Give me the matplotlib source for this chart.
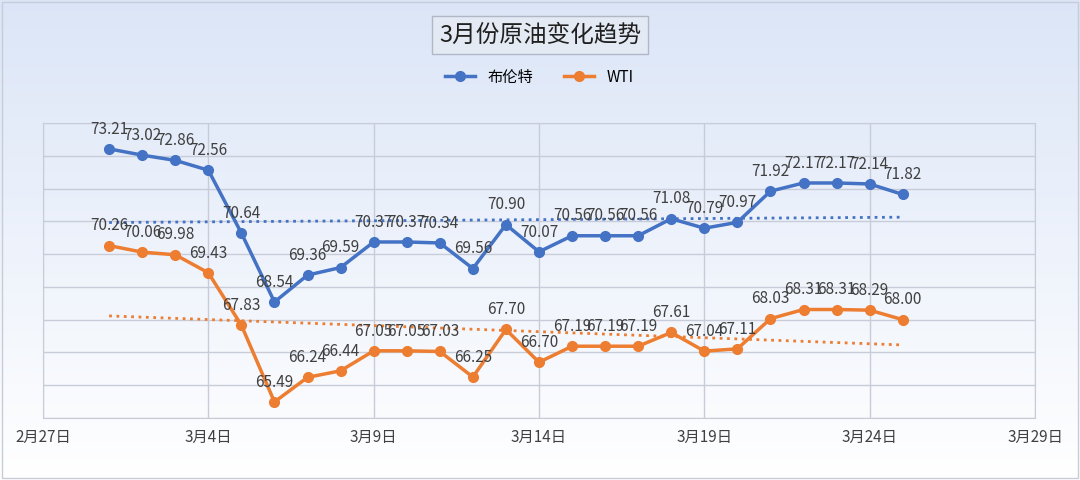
import matplotlib
matplotlib.use("Agg")
import matplotlib.pyplot as plt
import numpy as np

plt.rcParams['font.family'] = ['Noto Sans CJK SC', 'DejaVu Sans']

brent = [73.21, 73.02, 72.86, 72.56, 70.64, 68.54, 69.36, 69.59, 70.37, 70.37, 70.34, 69.56, 70.90,
         70.07, 70.56, 70.56, 70.56, 71.08, 70.79, 70.97, 71.92, 72.17, 72.17, 72.14, 71.82]
wti = [70.26, 70.06, 69.98, 69.43, 67.83, 65.49, 66.24, 66.44, 67.05, 67.05, 67.03, 66.25, 67.70,
       66.70, 67.19, 67.19, 67.19, 67.61, 67.04, 67.11, 68.03, 68.31, 68.31, 68.29, 68.00]
tick_labels = ['2月27日', '3月4日', '3月9日', '3月14日', '3月19日', '3月24日', '3月29日']

x = np.arange(len(brent)) + 2  # days after Feb 27 (2024, leap year)

fig = plt.figure(figsize=(10.8, 4.8), dpi=100)
bg = fig.add_axes([0, 0, 1, 1], zorder=-10)
top = np.array([0.86, 0.90, 0.97]); bot = np.array([1.0, 1.0, 1.0])
img = np.linspace(0, 1, 256)[:, None, None] * (top - bot)[None, None, :] + bot[None, None, :]
bg.imshow(img, aspect='auto', extent=[0, 1, 0, 1], origin='lower')
bg.set_xlim(0, 1); bg.set_ylim(0, 1)
bg.add_patch(plt.Rectangle((0.002, 0.004), 0.996, 0.992, fill=False, ec='#C8CCD8', lw=1))
bg.axis('off')

ax = fig.add_axes([43/1080, 1-418/480, (1035-43)/1080, (418-123)/480])
ax.set_facecolor('none')
blue = '#4472C4'; orange = '#ED7D31'
ax.plot(x, brent, '-o', color=blue, lw=2.5, ms=7, label='布伦特')
ax.plot(x, wti, '-o', color=orange, lw=2.5, ms=7, label='WTI')
for arr, c in [(brent, blue), (wti, orange)]:
    p = np.polyfit(x, arr, 1)
    ax.plot(x, np.polyval(p, x), ':', color=c, lw=2)
for arr in (brent, wti):
    for xi, v in zip(x, arr):
        ax.annotate(f'{v:.2f}', (xi, v), xytext=(0, 11), textcoords='offset points',
                    ha='center', fontsize=11, color='#404040')
ax.set_xlim(0, 30)
ax.set_ylim(65, 74)
ax.set_xticks(range(0, 31, 5))
ax.set_xticklabels(tick_labels, fontsize=11, color='#404040')
ax.set_yticks(range(65, 75))
ax.set_yticklabels([])
ax.tick_params(length=0, pad=8)
ax.grid(True, color='#C8CCD8', lw=1)
for s in ax.spines.values():
    s.set_color('#C8CCD8')
ax.legend(loc='lower center', bbox_to_anchor=(0.5, 1.08), ncol=2, frameon=False, fontsize=11)

fig.text(0.5, 1-35/480, '3月份原油变化趋势', ha='center', va='center', fontsize=17, color='#202020',
         bbox=dict(boxstyle='square,pad=0.3', facecolor='#E4EAF4', edgecolor='#B0B8C8'))
fig.savefig('out.png', dpi=100)
